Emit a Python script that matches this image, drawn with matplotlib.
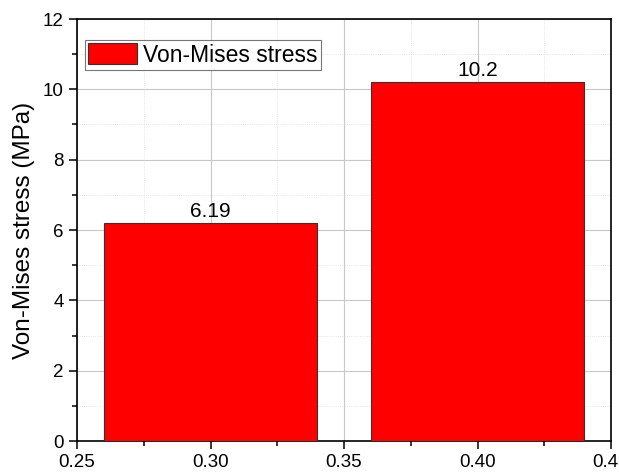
import matplotlib
matplotlib.use("Agg")
import matplotlib.pyplot as plt
from matplotlib.ticker import MultipleLocator

plt.rcParams['font.family'] = ['Liberation Sans', 'DejaVu Sans']

# data
x_pos = [0.30, 0.40]
stress = [6.19, 10.2]
bar_labels = ['6.19', '10.2']
x_ticks = [0.25, 0.30, 0.35, 0.40, 0.45]
x_ticklabels = ['0.25', '0.30', '0.35', '0.40', '0.45']

fig = plt.figure(figsize=(6.19, 4.73), dpi=100)
ax = fig.add_axes([77/619, 32/473, 534/619, 422/473])

bars = ax.bar(x_pos, stress, width=0.08, color='#ff0000', edgecolor='#333333',
              linewidth=0.8, label='Von-Mises stress', zorder=3)
for b, lab in zip(bars, bar_labels):
    ax.text(b.get_x() + b.get_width()/2, b.get_height() + 0.06, lab,
            ha='center', va='bottom', fontsize=15, zorder=4)

ax.set_xlim(0.25, 0.45)
ax.set_ylim(0, 12)
ax.xaxis.set_minor_locator(MultipleLocator(0.025))
ax.yaxis.set_major_locator(MultipleLocator(2))
ax.yaxis.set_minor_locator(MultipleLocator(1))
ax.set_xticks(x_ticks)
ax.set_xticklabels(x_ticklabels)

ax.grid(which='major', color='#c8c8c8', linewidth=0.8, linestyle='-', zorder=0)
ax.grid(which='minor', color='#dddddd', linewidth=0.6, linestyle=':', zorder=0)
ax.set_axisbelow(True)

ax.tick_params(which='major', direction='out', length=6, width=1.1, labelsize=13.5)
ax.tick_params(which='minor', direction='out', length=3.5, width=1.1)
for s in ax.spines.values():
    s.set_linewidth(1.2)

ax.set_ylabel('Von-Mises stress (MPa)', fontsize=17.5, labelpad=6)

leg = ax.legend(loc='upper left', bbox_to_anchor=(8/534, 401/422), fontsize=16.5,
                frameon=True, fancybox=False, edgecolor='#555555',
                handlelength=2.1, handleheight=1.0, borderpad=0.15,
                handletextpad=0.3, borderaxespad=0)
leg.get_frame().set_linewidth(0.8)

fig.savefig('out.png', dpi=100)
